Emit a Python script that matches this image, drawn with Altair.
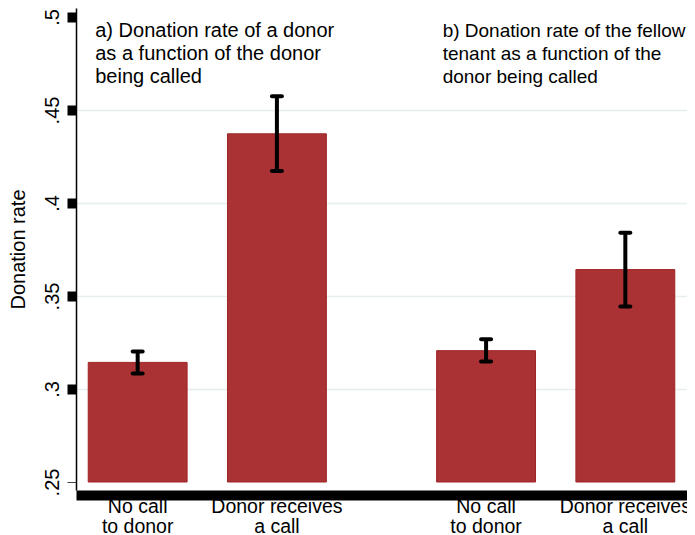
import altair as alt
import pandas as pd

# ---- data ----
panels = ["a", "a", "b", "b"]
conditions = ["none", "call", "none", "call"]
cond_labels = ["No call\nto donor", "Donor receives\na call", "No call\nto donor", "Donor receives\na call"]
rates = [0.3143, 0.4372, 0.3206, 0.3642]
ci_low = [0.3084, 0.4172, 0.3148, 0.3444]
ci_high = [0.3202, 0.4574, 0.3268, 0.3840]
base_value = 0.25
y_ticks = [0.25, 0.3, 0.35, 0.4, 0.45, 0.5]
title_a = "a) Donation rate of a donor\nas a function of the donor\nbeing called"
title_b = "b) Donation rate of the fellow\ntenant as a function of the\ndonor being called"

df = pd.DataFrame({
    "panel": panels,
    "cond": conditions,
    "label": cond_labels,
    "rate": rates,
    "lo": ci_low,
    "hi": ci_high,
})
notes_a = pd.DataFrame({"panel": ["a"], "text": [title_a], "y": [y_ticks[-1]]})
notes_b = pd.DataFrame({"panel": ["b"], "text": [title_b], "y": [y_ticks[-1]]})

FONT = "Liberation Sans"
W, H = 611, 482

x_scale = alt.Scale(domain=["a", "b"], paddingInner=0.3166, paddingOuter=0.0351)
xo_scale = alt.Scale(domain=["none", "call"], paddingInner=0.29, paddingOuter=0)
y_scale = alt.Scale(domain=[0.2457, 0.50484], nice=False, zero=False)

x_axis = alt.Axis(title=None, labels=False, ticks=False, grid=False,
                  domainWidth=10, domainColor="black", offset=5)
y_axis = alt.Axis(
    title="Donation rate", values=y_ticks,
    labelExpr="substring(toString(datum.value), 1)",
    labelAngle=270, labelFont=FONT, labelFontSize=20, labelColor="black",
    labelPadding=5,
    titleFont=FONT, titleFontSize=20, titleFontWeight="normal", titleColor="black",
    titlePadding=14,
    domainColor="black", domainWidth=1.5,
    tickSize=9,
    tickWidth={"condition": {"test": "datum.value < 0.26", "value": 1}, "value": 10},
    tickColor={"condition": {"test": "datum.value < 0.26", "value": "#444444"}, "value": "black"},
    grid=True,
    gridColor="#e6eef0", gridWidth=1.5,
    gridOpacity={"condition": {"test": "datum.value < 0.26 || datum.value > 0.49", "value": 0}, "value": 1},
)

X = alt.X("panel:N", scale=x_scale, axis=x_axis)
XO = alt.XOffset("cond:N", scale=xo_scale)

bars = alt.Chart(df).mark_bar(color="#ab3234", stroke="#9f2424", strokeWidth=1).encode(
    x=X, xOffset=XO,
    y=alt.Y("rate:Q", scale=y_scale, axis=y_axis),
    y2=alt.Y2(datum=base_value),
)

rules = alt.Chart(df).mark_rule(color="black", strokeWidth=4).encode(
    x=X, xOffset=XO,
    y=alt.Y("lo:Q", scale=y_scale, axis=y_axis),
    y2="hi:Q",
)

caps_lo = alt.Chart(df).mark_tick(color="black", thickness=4, size=14, cornerRadius=2, opacity=1).encode(
    x=X, xOffset=XO,
    y=alt.Y("lo:Q", scale=y_scale, axis=y_axis),
)
caps_hi = alt.Chart(df).mark_tick(color="black", thickness=4, size=14, cornerRadius=2, opacity=1).encode(
    x=X, xOffset=XO,
    y=alt.Y("hi:Q", scale=y_scale, axis=y_axis),
)

cat_text = alt.Chart(df).mark_text(
    font=FONT, fontSize=19.5, color="black", lineBreak="\n", lineHeight=20,
    align="center", baseline="alphabetic",
).encode(
    x=X, xOffset=XO,
    y=alt.value(H + 23),
    text="label:N",
)

note_a = alt.Chart(notes_a).mark_text(
    font=FONT, fontSize=20, color="black", lineBreak="\n", lineHeight=23,
    align="left", baseline="alphabetic", dx=7, dy=20,
).encode(
    x=alt.X("panel:N", scale=x_scale, axis=x_axis, bandPosition=0),
    y=alt.Y("y:Q", scale=y_scale, axis=y_axis),
    text="text:N",
)
note_b = alt.Chart(notes_b).mark_text(
    font=FONT, fontSize=19, color="black", lineBreak="\n", lineHeight=23,
    align="left", baseline="alphabetic", dx=6, dy=20,
).encode(
    x=alt.X("panel:N", scale=x_scale, axis=x_axis, bandPosition=0),
    y=alt.Y("y:Q", scale=y_scale, axis=y_axis),
    text="text:N",
)

chart = alt.layer(bars, rules, caps_lo, caps_hi, cat_text, note_a, note_b).properties(
    width=W, height=H,
    autosize=alt.AutoSizeParams(type="none"),
    padding={"left": 68, "top": 0, "right": 0, "bottom": 46},
    background="white",
).configure_view(stroke=None)

chart.save("out.html", embed_options={"renderer": "svg", "actions": False})
